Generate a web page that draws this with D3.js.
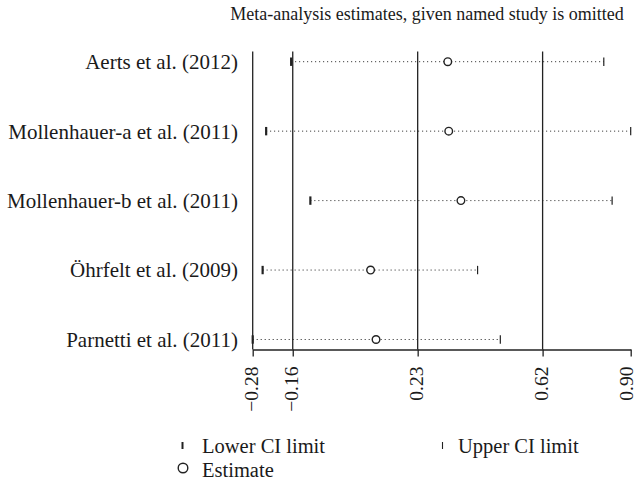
<!DOCTYPE html>
<html>
<head>
<meta charset="utf-8">
<script src="https://cdn.jsdelivr.net/npm/d3@7"></script>
<style>
  html, body { margin: 0; padding: 0; background: #fff; }
  svg { display: block; }
  text { font-family: "Liberation Serif", "DejaVu Serif", serif; fill: #1a1a1a; }
</style>
</head>
<body>
<svg id="chart" width="637" height="487"></svg>
<script>
// Leave-one-out meta-analysis: estimate and 95% CI when each study is omitted
const studies = [
  "Aerts et al. (2012)",
  "Mollenhauer-a et al. (2011)",
  "Mollenhauer-b et al. (2011)",
  "Öhrfelt et al. (2009)",
  "Parnetti et al. (2011)"
];
const lowerCI  = [-0.162, -0.240, -0.102, -0.251, -0.282];
const estimate = [ 0.327,  0.330,  0.368,  0.086,  0.103];
const upperCI  = [ 0.814,  0.898,  0.840,  0.420,  0.491];

// axis ticks (values shown rounded to two decimals)
const tickValues = [-0.282, -0.157, 0.233, 0.623, 0.898];
// vertical reference lines
const refLines = [-0.282, -0.157, 0.233, 0.623];

const titleText = "Meta-analysis estimates, given named study is omitted";
const legendItems = ["Lower CI limit", "Upper CI limit", "Estimate"];

const svg = d3.select("#chart");
const ink = "#222";
const studySize = "21px";
const legendSize = "20.5px";

const x = d3.scaleLinear()
  .domain([tickValues[0], tickValues[tickValues.length - 1]])
  .range([252.7, 630.7]);

const y = d3.scalePoint()
  .domain(studies)
  .range([61.7, 339.5]);

const axisY = 349.5;
const plotTop = 51.5;

// title
svg.append("text")
  .attr("x", 427)
  .attr("y", 20)
  .attr("text-anchor", "middle")
  .style("font-size", "18px")
  .text(titleText);

// reference lines
svg.append("g")
  .selectAll("line")
  .data(refLines)
  .join("line")
  .attr("x1", d => x(d)).attr("x2", d => x(d))
  .attr("y1", plotTop).attr("y2", axisY)
  .attr("stroke", ink)
  .attr("stroke-width", 1.3);

// x axis
const axis = d3.axisBottom(x)
  .tickValues(tickValues)
  .tickSize(7)
  .tickSizeOuter(0)
  .tickFormat(d3.format(".2f"));

const gAxis = svg.append("g")
  .attr("transform", `translate(0,${axisY})`)
  .call(axis);
gAxis.select(".domain").attr("stroke", ink).attr("stroke-width", 1.3);
gAxis.selectAll(".tick line").attr("stroke", ink).attr("stroke-width", 1.3);
const lastTick = tickValues[tickValues.length - 1];
gAxis.selectAll(".tick text")
  .attr("transform", "rotate(-90)")
  .attr("x", -17)
  .attr("y", 0)
  // the rightmost label is nudged inward so it stays inside the frame
  .attr("dy", d => d === lastTick ? "0.1em" : "0.24em")
  .attr("text-anchor", "end")
  .style("font-family", "\"Liberation Serif\", serif")
  .style("font-size", "19.5px")
  .attr("fill", "#1a1a1a")
  .text(d => d3.format(".2f")(d).replace("-", "\u2212"));

// study labels
svg.append("g")
  .selectAll("text")
  .data(studies)
  .join("text")
  .attr("x", 238)
  .attr("y", d => y(d))
  .attr("dy", "0.35em")
  .attr("text-anchor", "end")
  .style("font-size", studySize)
  .text(d => d);

const rows = studies.map((s, i) => ({
  study: s, lo: lowerCI[i], est: estimate[i], hi: upperCI[i]
}));

const gRows = svg.append("g");

// dotted CI lines
gRows.selectAll("line.ci")
  .data(rows)
  .join("line")
  .attr("class", "ci")
  .attr("x1", d => x(d.lo)).attr("x2", d => x(d.hi))
  .attr("y1", d => y(d.study)).attr("y2", d => y(d.study))
  .attr("stroke", ink)
  .attr("stroke-width", 1)
  .attr("stroke-dasharray", "1,3");

// lower CI limit (heavy tick)
gRows.selectAll("line.lo")
  .data(rows)
  .join("line")
  .attr("class", "lo")
  .attr("x1", d => x(d.lo)).attr("x2", d => x(d.lo))
  .attr("y1", d => y(d.study) - 4.2).attr("y2", d => y(d.study) + 4.2)
  .attr("stroke", ink)
  .attr("stroke-width", 2.2);

// upper CI limit (light tick)
gRows.selectAll("line.hi")
  .data(rows)
  .join("line")
  .attr("class", "hi")
  .attr("x1", d => x(d.hi)).attr("x2", d => x(d.hi))
  .attr("y1", d => y(d.study) - 4.2).attr("y2", d => y(d.study) + 4.2)
  .attr("stroke", ink)
  .attr("stroke-width", 1.2);

// point estimate
gRows.selectAll("circle.est")
  .data(rows)
  .join("circle")
  .attr("class", "est")
  .attr("cx", d => x(d.est))
  .attr("cy", d => y(d.study))
  .attr("r", 3.8)
  .attr("fill", "#fff")
  .attr("stroke", ink)
  .attr("stroke-width", 1.4);

// legend
const lg = svg.append("g");
lg.append("line")
  .attr("x1", 182.5).attr("x2", 182.5).attr("y1", 442).attr("y2", 449)
  .attr("stroke", ink).attr("stroke-width", 2);
lg.append("text").attr("x", 202).attr("y", 452.5).style("font-size", legendSize).text(legendItems[0]);
lg.append("line")
  .attr("x1", 442.5).attr("x2", 442.5).attr("y1", 442).attr("y2", 449)
  .attr("stroke", ink).attr("stroke-width", 1.1);
lg.append("text").attr("x", 458).attr("y", 452.5).style("font-size", legendSize).text(legendItems[1]);
lg.append("circle")
  .attr("cx", 183).attr("cy", 468).attr("r", 4.8)
  .attr("fill", "none").attr("stroke", ink).attr("stroke-width", 1.4);
lg.append("text").attr("x", 202).attr("y", 476.5).style("font-size", legendSize).text(legendItems[2]);
</script>
</body>
</html>
